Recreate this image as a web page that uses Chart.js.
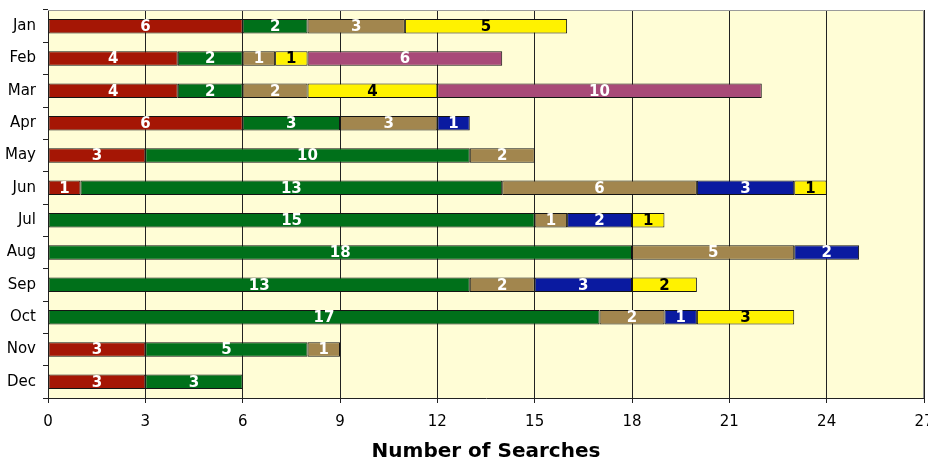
<!DOCTYPE html>
<html>
<head>
<meta charset="utf-8">
<script src="https://cdn.jsdelivr.net/npm/chart.js@4/dist/chart.umd.min.js"></script>
<style>
  html, body { margin: 0; padding: 0; background: #fff; }
  #wrap { width: 928px; height: 462px; }
</style>
</head>
<body>
<div id="wrap"><canvas id="searchChart"></canvas></div>
<script>
// months and search counts per category (null = no segment)
const months = ['Jan', 'Feb', 'Mar', 'Apr', 'May', 'Jun', 'Jul', 'Aug', 'Sep', 'Oct', 'Nov', 'Dec'];
const redVals    = [6, 4, 4, 6, 3, 1, null, null, null, null, 3, 3];
const greenVals  = [2, 2, 2, 3, 10, 13, 15, 18, 13, 17, 5, 3];
const tanVals    = [3, 1, 2, 3, 2, 6, 1, 5, 2, 2, 1, null];
const blueVals   = [null, null, null, 1, null, 3, 2, 2, 3, 1, null, null];
const yellowVals = [5, 1, 4, null, null, 1, 1, null, 2, 3, null, null];
const purpleVals = [null, 6, 10, null, null, null, null, null, null, null, null, null];
const xTicks = [0, 3, 6, 9, 12, 15, 18, 21, 24, 27];

const FONT = 'DejaVu Sans, Verdana, sans-serif';

function series(data, color, textColor) {
  return {
    data: data,
    backgroundColor: color,
    borderColor: '#141414',
    borderWidth: 1,
    borderSkipped: false,
    barPercentage: 1.0,
    categoryPercentage: 0.45,
    textColor: textColor
  };
}

// plot background + border
const plotBg = {
  id: 'plotBg',
  beforeDraw(chart) {
    const { ctx, chartArea: a } = chart;
    ctx.save();
    ctx.fillStyle = '#FFFDD6';
    ctx.fillRect(a.left, a.top, a.right - a.left, a.bottom - a.top);
    ctx.restore();
  },
  afterDraw(chart) {
    const { ctx, chartArea: a } = chart;
    ctx.save();
    ctx.strokeStyle = '#9a9a9a';
    ctx.lineWidth = 1;
    ctx.beginPath();
    ctx.moveTo(a.left, a.top + 0.5);
    ctx.lineTo(a.right - 0.5, a.top + 0.5);
    ctx.lineTo(a.right - 0.5, a.bottom);
    ctx.stroke();
    ctx.restore();
  }
};

// values written in the middle of each segment
const barLabels = {
  id: 'barLabels',
  afterDatasetsDraw(chart) {
    const ctx = chart.ctx;
    ctx.save();
    ctx.font = 'bold 15px ' + FONT;
    ctx.textAlign = 'center';
    ctx.textBaseline = 'middle';
    chart.data.datasets.forEach((ds, i) => {
      chart.getDatasetMeta(i).data.forEach((bar, j) => {
        const v = ds.data[j];
        if (v == null) return;
        ctx.fillStyle = ds.textColor;
        ctx.fillText(String(v), (bar.x + bar.base) / 2, bar.y + 1);
      });
    });
    ctx.restore();
  }
};

new Chart(document.getElementById('searchChart'), {
  type: 'bar',
  data: {
    labels: months,
    datasets: [
      series(redVals, '#A51605', '#ffffff'),
      series(greenVals, '#00701A', '#ffffff'),
      series(tanVals, '#A2864E', '#ffffff'),
      series(blueVals, '#0A1AA0', '#ffffff'),
      series(yellowVals, '#FFF200', '#000000'),
      series(purpleVals, '#A84A78', '#ffffff')
    ]
  },
  options: {
    indexAxis: 'y',
    responsive: true,
    maintainAspectRatio: false,
    animation: false,
    layout: { padding: { top: 10, right: 4, left: 0, bottom: 0 } },
    plugins: {
      legend: { display: false },
      tooltip: { enabled: false }
    },
    scales: {
      x: {
        stacked: true,
        min: 0,
        max: 27,
        afterBuildTicks: s => { s.ticks = xTicks.map(v => ({ value: v })); },
        afterFit: s => { s.paddingRight = 0; s.paddingLeft = 0; s.height = 64; },
        grid: {
          color: '#222',
          lineWidth: 1,
          tickLength: 5,
          tickColor: '#222'
        },
        border: { color: '#222', width: 1 },
        ticks: {
          color: '#000',
          font: { family: FONT, size: 15 },
          padding: 10,
          maxRotation: 0
        },
        title: {
          display: true,
          text: 'Number of Searches',
          color: '#000',
          font: { family: FONT, size: 20, weight: 'bold', lineHeight: 1.0 },
          padding: { top: 0, bottom: 0 }
        }
      },
      y: {
        stacked: true,
        afterFit: s => { s.width = 48; s.paddingTop = 0; s.paddingBottom = 0; },
        grid: {
          offset: true,
          drawOnChartArea: false,
          tickLength: 5,
          color: '#222'
        },
        border: { color: '#222', width: 1 },
        ticks: {
          color: '#000',
          font: { family: FONT, size: 15 },
          padding: 7
        }
      }
    }
  },
  plugins: [plotBg, barLabels]
});
</script>
</body>
</html>
